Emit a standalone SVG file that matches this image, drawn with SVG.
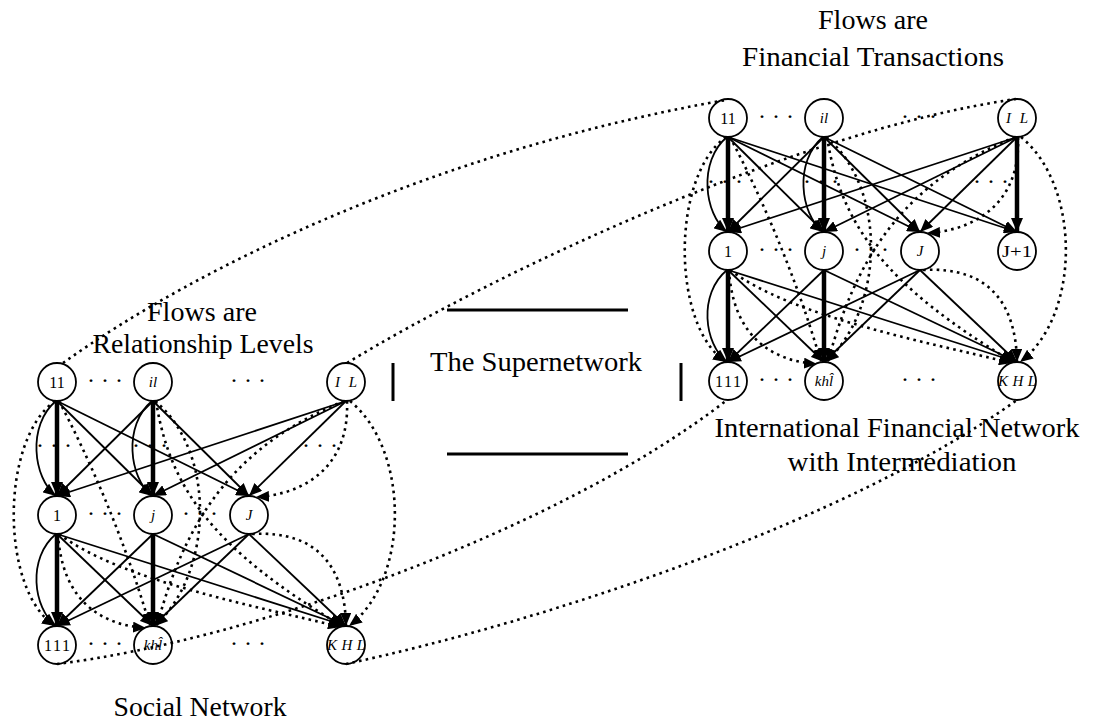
<svg xmlns="http://www.w3.org/2000/svg" width="1096" height="724" viewBox="0 0 1096 724">
<defs>
<marker id="arr" viewBox="0 0 13 11" refX="13" refY="5.5" markerWidth="13" markerHeight="11" markerUnits="userSpaceOnUse" orient="auto"><path d="M0,0 L13,5.5 L0,11 z" fill="#000"/></marker>
<marker id="arrB" viewBox="0 0 14 12" refX="14" refY="6" markerWidth="14" markerHeight="12" markerUnits="userSpaceOnUse" orient="auto"><path d="M0,0 L14,6 L0,12 z" fill="#000"/></marker>
<style>
.nd circle{fill:#fff;stroke:#000;stroke-width:1.8}
.lbl{font-family:"Liberation Serif",serif;font-size:15px;text-anchor:middle;fill:#000}
.num{font-size:16px}
.it{font-style:italic}
.thin{fill:none;stroke:#000;stroke-width:1.8;marker-end:url(#arr)}
.thick{fill:none;stroke:#000;stroke-width:4.5;marker-end:url(#arrB)}
.dot{fill:none;stroke:#000;stroke-width:2.6;stroke-dasharray:2.6 4.2}
.dota{fill:none;stroke:#000;stroke-width:2.6;stroke-dasharray:2.6 4.2;marker-end:url(#arr)}
.cap{font-family:"Liberation Serif",serif;font-size:28px;text-anchor:middle;fill:#000}
.dots{font-family:"Liberation Serif",serif;font-size:24px;text-anchor:middle;fill:#000}
.bar{stroke:#000;stroke-width:3}
</style>
</defs>
<rect width="1096" height="724" fill="#fff"/>

<!-- Social network (left) -->
<g id="social-network">
<g id="social-connectors">
<path class="thin" d="M57,401 L153,496"/>
<path class="thin" d="M57,401 L249,496"/>
<path class="thin" d="M153,401 L57,496"/>
<path class="thin" d="M153,401 L249,496"/>
<path class="thin" d="M346,401 L57,496"/>
<path class="thin" d="M346,401 L153,496"/>
<path class="thin" d="M346,401 L249,496"/>
<path class="thin" d="M57,534 L153,626"/>
<path class="thin" d="M57,534 L346,626"/>
<path class="thin" d="M153,534 L57,626"/>
<path class="thin" d="M153,534 L346,626"/>
<path class="thin" d="M249,534 L57,626"/>
<path class="thin" d="M249,534 L153,626"/>
<path class="thin" d="M249,534 L346,626"/>
<path class="thick" d="M57,401 L57,496"/>
<path class="thick" d="M153,401 L153,496"/>
<path class="thick" d="M57,534 L57,626"/>
<path class="thick" d="M153,534 L153,626"/>
<path class="thin" d="M56,401 C27,425 33,478 56,496"/>
<path class="thin" d="M152,401 C123,425 129,478 152,496"/>
<path class="thin" d="M56,534 C27,558 33,608 56,626"/>
<path class="dota" d="M55,401 C0,440 0,590 55,626"/>
<path class="dota" d="M59,401 C90,460 125,540 150,626"/>
<path class="dota" d="M155,401 C215,450 215,570 155,626"/>
<path class="dota" d="M156,401 C170,490 215,550 342,626"/>
<path class="dota" d="M344,401 C250,440 190,500 157,626"/>
<path class="dota" d="M347,401 C350,470 300,495 256,497"/>
<path class="dota" d="M350,401 C410,450 410,580 349,626"/>
<path class="dota" d="M58,534 C62,600 100,625 146,628"/>
<path class="dota" d="M59,534 C120,580 250,605 341,627"/>
<path class="dota" d="M252,534 C320,530 345,570 346,626"/>
</g>
<g id="s-11" class="nd"><circle cx="57" cy="382" r="19"/><text class="lbl num" x="57" y="387.5">11</text></g>
<g id="s-il" class="nd"><circle cx="153" cy="382" r="19"/><text class="lbl it" x="153" y="387">il</text></g>
<g id="s-IL" class="nd"><circle cx="346" cy="382" r="19"/><text class="lbl it" x="346" y="387" textLength="22" lengthAdjust="spacing">IL</text></g>
<g id="s-1" class="nd"><circle cx="57" cy="515" r="19"/><text class="lbl num" x="57" y="520.5">1</text></g>
<g id="s-j" class="nd"><circle cx="153" cy="515" r="19"/><text class="lbl it" x="153" y="520">j</text></g>
<g id="s-J" class="nd"><circle cx="249" cy="515" r="19"/><text class="lbl it" x="249" y="520">J</text></g>
<g id="s-111" class="nd"><circle cx="57" cy="645" r="19"/><text class="lbl num" x="57" y="650.5" textLength="26" lengthAdjust="spacing">111</text></g>
<g id="s-khl" class="nd"><circle cx="153" cy="645" r="19"/><text class="lbl it" x="153" y="650">khl̂</text></g>
<g id="s-KHL" class="nd"><circle cx="346" cy="645" r="19"/><text class="lbl it" x="346" y="650" textLength="38" lengthAdjust="spacing">KHL</text></g>
<g id="s-dots">
<text class="dots" x="105" y="388">· · ·</text>
<text class="dots" x="248" y="388">· · ·</text>
<text class="dots" x="54" y="453">· · ·</text>
<text class="dots" x="150" y="453">· · ·</text>
<text class="dots" x="320" y="453">· · ·</text>
<text class="dots" x="105" y="521">· · ·</text>
<text class="dots" x="200" y="521">· · ·</text>
<text class="dots" x="105" y="651">· · ·</text>
<text class="dots" x="248" y="651">· · ·</text>
</g>
</g>

<!-- Financial network (right) -->
<g id="financial-network" transform="translate(671,-264)">
<g id="financial-connectors">
<path class="thin" d="M57,401 L153,496"/>
<path class="thin" d="M57,401 L249,496"/>
<path class="thin" d="M57,401 L346,496"/>
<path class="thin" d="M153,401 L57,496"/>
<path class="thin" d="M153,401 L249,496"/>
<path class="thin" d="M153,401 L346,496"/>
<path class="thin" d="M346,401 L57,496"/>
<path class="thin" d="M346,401 L153,496"/>
<path class="thin" d="M346,401 L249,496"/>
<path class="thin" d="M57,534 L153,626"/>
<path class="thin" d="M57,534 L346,626"/>
<path class="thin" d="M153,534 L57,626"/>
<path class="thin" d="M153,534 L346,626"/>
<path class="thin" d="M249,534 L57,626"/>
<path class="thin" d="M249,534 L153,626"/>
<path class="thin" d="M249,534 L346,626"/>
<path class="thick" d="M57,401 L57,496"/>
<path class="thick" d="M153,401 L153,496"/>
<path class="thick" d="M346,401 L346,496"/>
<path class="thick" d="M57,534 L57,626"/>
<path class="thick" d="M153,534 L153,626"/>
<path class="thin" d="M56,401 C27,425 33,478 56,496"/>
<path class="thin" d="M152,401 C123,425 129,478 152,496"/>
<path class="thin" d="M56,534 C27,558 33,608 56,626"/>
<path class="dota" d="M55,401 C0,440 0,590 55,626"/>
<path class="dota" d="M59,401 C90,460 125,540 150,626"/>
<path class="dota" d="M155,401 C215,450 215,570 155,626"/>
<path class="dota" d="M156,401 C170,490 215,550 342,626"/>
<path class="dota" d="M344,401 C250,440 190,500 157,626"/>
<path class="dota" d="M347,401 C350,470 300,495 256,497"/>
<path class="dota" d="M350,401 C410,450 410,580 349,626"/>
<path class="dota" d="M58,534 C62,600 100,625 146,628"/>
<path class="dota" d="M59,534 C120,580 250,605 341,627"/>
<path class="dota" d="M252,534 C320,530 345,570 346,626"/>
</g>
<g id="f-11" class="nd"><circle cx="57" cy="382" r="19"/><text class="lbl num" x="57" y="387.5">11</text></g>
<g id="f-il" class="nd"><circle cx="153" cy="382" r="19"/><text class="lbl it" x="153" y="387">il</text></g>
<g id="f-IL" class="nd"><circle cx="346" cy="382" r="19"/><text class="lbl it" x="346" y="387" textLength="22" lengthAdjust="spacing">IL</text></g>
<g id="f-1" class="nd"><circle cx="57" cy="515" r="19"/><text class="lbl num" x="57" y="520.5">1</text></g>
<g id="f-j" class="nd"><circle cx="153" cy="515" r="19"/><text class="lbl it" x="153" y="520">j</text></g>
<g id="f-J" class="nd"><circle cx="249" cy="515" r="19"/><text class="lbl it" x="249" y="520">J</text></g>
<g id="f-J1" class="nd"><circle cx="346" cy="515" r="19"/><text class="lbl num" x="346" y="520.5" textLength="30" lengthAdjust="spacingAndGlyphs">J+1</text></g>
<g id="f-111" class="nd"><circle cx="57" cy="645" r="19"/><text class="lbl num" x="57" y="650.5" textLength="26" lengthAdjust="spacing">111</text></g>
<g id="f-khl" class="nd"><circle cx="153" cy="645" r="19"/><text class="lbl it" x="153" y="650">khl̂</text></g>
<g id="f-KHL" class="nd"><circle cx="346" cy="645" r="19"/><text class="lbl it" x="346" y="650" textLength="38" lengthAdjust="spacing">KHL</text></g>
<g id="f-dots">
<text class="dots" x="105" y="388">· · ·</text>
<text class="dots" x="248" y="388">· · ·</text>
<text class="dots" x="54" y="453">· · ·</text>
<text class="dots" x="150" y="453">· · ·</text>
<text class="dots" x="320" y="453">· · ·</text>
<text class="dots" x="105" y="521">· · ·</text>
<text class="dots" x="200" y="521">· · ·</text>
<text class="dots" x="105" y="651">· · ·</text>
<text class="dots" x="248" y="651">· · ·</text>
</g>
</g>

<!-- Supernetwork label -->
<g id="supernetwork">
<line class="bar" x1="447" y1="310" x2="628" y2="310"/>
<line class="bar" x1="447" y1="454" x2="628" y2="454"/>
<line class="bar" x1="393" y1="363" x2="393" y2="401"/>
<line class="bar" x1="681" y1="363" x2="681" y2="401"/>
<text class="cap" x="536" y="371" textLength="212" lengthAdjust="spacingAndGlyphs">The Supernetwork</text>
</g>

<g id="captions">
<text class="cap" x="202" y="321" textLength="110" lengthAdjust="spacingAndGlyphs">Flows are</text>
<text class="cap" x="203" y="353" textLength="221" lengthAdjust="spacingAndGlyphs">Relationship Levels</text>
<text class="cap" x="873" y="29" textLength="110" lengthAdjust="spacingAndGlyphs">Flows are</text>
<text class="cap" x="873" y="66" textLength="262" lengthAdjust="spacingAndGlyphs">Financial Transactions</text>
<text class="cap" x="897" y="437" textLength="365" lengthAdjust="spacingAndGlyphs">International Financial Network</text>
<text class="cap" x="902" y="471" textLength="229" lengthAdjust="spacingAndGlyphs">with Intermediation</text>
<text class="cap" x="200" y="716" textLength="173" lengthAdjust="spacingAndGlyphs">Social Network</text>
</g>

<!-- Cross-network links -->
<g id="cross-connectors">
<path class="dot" d="M63,363 C200,265 440,150 726,100"/>
<path class="dot" d="M347,363 C500,270 800,130 1016,99"/>
<path class="dot" d="M57,664 C250,640 560,530 727,400"/>
<path class="dot" d="M346,664 C550,620 850,520 1017,400"/>
</g>
</svg>
